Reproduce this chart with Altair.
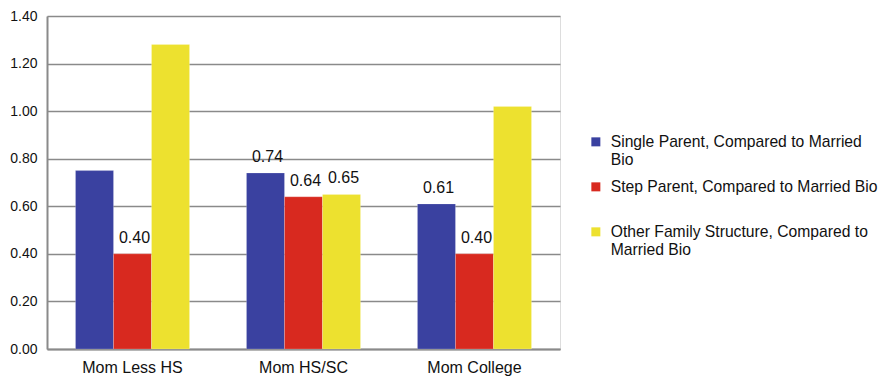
import altair as alt
import pandas as pd

# Groups along the x axis
groups = ["Mom Less HS", "Mom HS/SC", "Mom College"]

# Series (family structure compared to married biological parents)
series = [
    "Single Parent, Compared to Married Bio",
    "Step Parent, Compared to Married Bio",
    "Other Family Structure, Compared to Married Bio",
]
# Legend text split into lines with "|"; every entry gets two lines so rows stay evenly spaced
series_lines = [
    "Single Parent, Compared to Married|Bio",
    "Step Parent, Compared to Married Bio| ",
    "Other Family Structure, Compared to|Married Bio",
]
colors = ["#3A41A0", "#D8291F", "#EDE12F"]

single_parent = [0.75, 0.74, 0.61]
step_parent = [0.40, 0.64, 0.40]
other_family = [1.28, 0.65, 1.02]

# Which bars carry a value label
single_labeled = [False, True, True]
step_labeled = [True, True, True]
other_labeled = [False, True, False]

rows = []
for s_idx, (name, vals, flags) in enumerate(
    zip(series, [single_parent, step_parent, other_family],
        [single_labeled, step_labeled, other_labeled])
):
    for g, v, f in zip(groups, vals, flags):
        rows.append({"group": g, "series": name, "order": s_idx,
                     "value": v, "labeled": f})
df = pd.DataFrame(rows)

font = "Liberation Sans"
label_expr = "split(datum.label == '{0}' ? '{1}' : datum.label == '{2}' ? '{3}' : datum.label == '{4}' ? '{5}' : datum.label, '|')".format(
    series[0], series_lines[0], series[1], series_lines[1], series[2], series_lines[2]
)

x_enc = alt.X(
    "group:N",
    sort=groups,
    title=None,
    scale=alt.Scale(paddingInner=0.333, paddingOuter=0.1667),
    axis=alt.Axis(labelAngle=0, labelFont=font, labelFontSize=16,
                  labelColor="#111", labelPadding=10, ticks=False, grid=False,
                  domainColor="#8a8a8a", domainWidth=2),
)
y_enc = alt.Y(
    "value:Q",
    title=None,
    scale=alt.Scale(domain=[0, 1.4], nice=False),
    axis=alt.Axis(values=[0, 0.2, 0.4, 0.6, 0.8, 1.0, 1.2, 1.4], format=".2f",
                  labelFont=font, labelFontSize=14, labelColor="#111",
                  labelPadding=10, ticks=False, domainColor="#8a8a8a",
                  domainWidth=2, gridColor="#8a8a8a", gridWidth=1.6),
)

bars = alt.Chart(df).mark_bar(stroke="white", strokeWidth=0.4, strokeOpacity=0.5).encode(
    x=x_enc,
    y=y_enc,
    xOffset=alt.XOffset("series:N", sort=series, scale=alt.Scale(paddingInner=0, paddingOuter=0)),
    color=alt.Color(
        "series:N",
        sort=series,
        scale=alt.Scale(domain=series, range=colors),
        legend=alt.Legend(
            title=None, orient="none", legendX=541, legendY=118,
            symbolType="square", symbolSize=81, symbolStrokeWidth=0,
            labelFont=font, labelFontSize=15.7, labelColor="#111",
            labelLimit=400, labelOffset=7, rowPadding=10, padding=0,
            labelExpr=label_expr,
        ),
    ),
)

labels = alt.Chart(df).transform_filter("datum.labeled").mark_text(
    baseline="bottom", dy=-8, dx=2, font=font, fontSize=16, color="#111"
).encode(
    x=alt.X("group:N", sort=groups),
    xOffset=alt.XOffset("series:N", sort=series),
    y="value:Q",
    text=alt.Text("value:Q", format=".2f"),
)

chart = (
    alt.layer(bars, labels)
    .properties(
        width=513, height=333,
        autosize=alt.AutoSizeParams(type="none"),
        padding={"left": 47, "top": 16, "right": 321, "bottom": 27},
    )
    .configure_view(stroke="transparent", strokeWidth=0)
    .configure(background="white")
)

chart.save("out.html", embed_options={"renderer": "svg", "actions": False})
